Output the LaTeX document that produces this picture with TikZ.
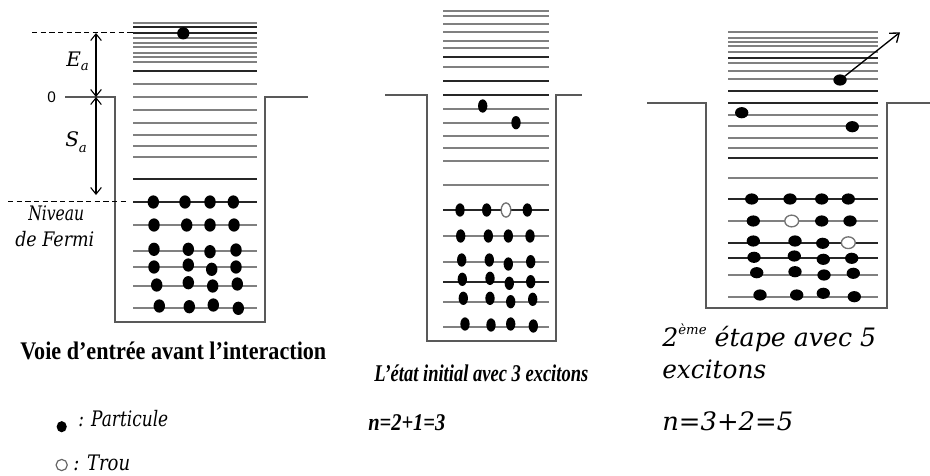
\documentclass[tikz,border=0pt]{standalone}
\usepackage{graphicx}
\usepackage{fontspec}
\setmainfont{Liberation Serif}
\newfontfamily\slab{DejaVu Serif}
\newfontfamily\sansf{Liberation Sans}
\usetikzlibrary{arrows.meta}
\newdimen\pxu \pxu=0.75pt
\newcommand{\fitw}[2]{\resizebox{#1\pxu}{\height}{#2}}
\begin{document}
\begin{tikzpicture}[x=0.75pt,y=-0.75pt,
  lv/.style={draw=black!50, line width=1.4pt},
  lvd/.style={draw=black!85, line width=1.4pt},
  well/.style={draw=black!65, line width=1.5pt},
  dashl/.style={draw=black, line width=1pt, dash pattern=on 4pt off 2.5pt},
  dimarrow/.style={draw=black, line width=0.8pt, {Straight Barb[length=5pt,width=8pt]}-{Straight Barb[length=5pt,width=8pt]}},
  outarrow/.style={draw=black, line width=1pt, -{Straight Barb[length=6pt,width=9pt]}},
  holestyle/.style={draw=black!55, fill=white, line width=1pt},
  txt/.style={inner sep=0pt, anchor=base west}]
\useasboundingbox (0,0) rectangle (930,475);

% ---------------- Panel 1 ----------------
\foreach \y in {22.7,37.7,42.7,47,52.7,57.3,62.3,84.3,96.7,110,122.7,135,145.7,156.7,225,250.7,267.3,286,308.3}
  \draw[lv] (133,\y) -- (257,\y);
\foreach \y in {27.3,33.3,71,179.3,201.7}
  \draw[lvd] (133,\y) -- (257,\y);
\draw[well] (65,97) -- (115,97) -- (115,322) -- (265,322) -- (265,97) -- (308,97);
\draw[dashl] (32,32.7) -- (133,32.7);
\draw[dashl] (8,201.7) -- (127,201.7);
\coordinate (eatop) at (96,33);
\coordinate (zero) at (96,97);
\coordinate (sabot) at (96,195);
\draw[dimarrow] (eatop) -- (zero);
\draw[dimarrow] (zero) -- (sabot);
\fill (183.3,33.3) circle [radius=4.6pt];
\foreach \x/\y in {153.3/202,185/202,210/202,233.3/202,
  154/225,186.7/225,210/225,234/225,
  154/249.3,188.3/249.3,210/251.7,236/250,
  154/267,188.3/265,211.7/269.3,236/267,
  156.7/285,188.3/282.7,212.7/286,237.3/284,
  159.3/306,189.3/306.7,213.3/305,238.3/308.3}
  \fill (\x,\y) ellipse [x radius=4.3pt, y radius=5pt];
\node[txt] (ea) at (66,66.7) {\fontsize{15pt}{17pt}\slab\itshape E\raisebox{-0.35ex}{\fontsize{10pt}{11pt}\selectfont a}};
\node[txt] (zerolab) at (47,102) {\fontsize{11.5pt}{13pt}\sansf 0};
\node[txt] (sa) at (65,146.7) {\fontsize{15pt}{17pt}\slab\itshape S\raisebox{-0.6ex}{\fontsize{10pt}{11pt}\selectfont a}};
\node[txt] (niv) at (28,220) {\fitw{56}{\fontsize{15pt}{17pt}\slab\itshape Niveau}};
\node[txt] (fermi) at (15,246.7) {\fitw{79}{\fontsize{15pt}{17pt}\slab\itshape de Fermi}};

% ---------------- Panel 2 ----------------
\foreach \y in {11,16,24.3,32.3,40.7,47.7,66.7,108.7,123,136.3,148,161.3,185,236,261.7,301.7,326.7}
  \draw[lv] (443,\y) -- (549,\y);
\foreach \y in {57.3,80.7,95,210,281.7}
  \draw[lvd] (443,\y) -- (549,\y);
\draw[well] (385,95) -- (427,95) -- (427,341) -- (556,341) -- (556,95) -- (582,95);
\foreach \x/\y in {482.7/106,516/122.7,
  460/210,486.7/210,527.3/210,
  460.7/236,488.3/236,508.3/236,530/236,
  461.7/260,489.3/260,508.3/264,530.7/261.7,
  462.3/279.3,490/278.3,509.3/283.3,530.7/281.7,
  463.3/298.3,490/298.3,510.7/301.7,532.7/299.3,
  465/324,491/325,510.7/324,533.3/326}
  \fill (\x,\y) ellipse [x radius=3.5pt, y radius=5pt];
\draw[holestyle] (506,210) ellipse [x radius=3.6pt, y radius=5.3pt];

% ---------------- Panel 3 ----------------
\foreach \y in {32.3,37.7,41.7,46,52.3,63.3,71,79,115,126,137.7,147.7,177.7,221,275,296.7}
  \draw[lv] (728,\y) -- (878,\y);
\foreach \y in {58.3,91,103.3,158.3,199,242.7,258.3}
  \draw[lvd] (728,\y) -- (878,\y);
\draw[well] (647,103.3) -- (705.7,103.3) -- (705.7,307.5) -- (887.3,307.5) -- (887.3,103.3) -- (930,103.3);
\foreach \x/\y in {840/80,741.7/112.7,852.3/126.7,
  751.7/199,790/199,821.7/199,848.3/199,
  753.3/221,821.7/221,850/221,
  753.3/241,795/241,822.7/243.3,
  754/257.3,794.3/256,823.3/259.3,851.7/258.3,
  756.7/272.7,795/271.7,824/275,853.3/273.3,
  760/295,796.7/295,823.3/293.3,854.3/296.7}
  \fill (\x,\y) ellipse [x radius=5pt, y radius=4.2pt];
\draw[holestyle] (791.7,221) ellipse [x radius=5.2pt, y radius=4.4pt];
\draw[holestyle] (848.3,242.7) ellipse [x radius=5.2pt, y radius=4.4pt];
\coordinate (esc) at (840,80);
\coordinate (esctip) at (900,32.3);
\draw[outarrow] (esc) -- (esctip);

% ---------------- Captions ----------------
\node[txt] (voie) at (20,359) {\fitw{306}{\fontsize{19pt}{22pt}\selectfont\bfseries Voie d’entrée avant l’interaction}};
\node[txt] (etat) at (374,381.5) {\fitw{214}{\fontsize{18pt}{20pt}\selectfont\bfseries\itshape L’état initial avec 3 excitons}};
\node[txt] (etape) at (662,346) {\fitw{214}{\fontsize{19pt}{22pt}\slab\itshape 2\raisebox{0.85ex}{\fontsize{10pt}{11pt}\selectfont ème} étape avec 5}};
\node[txt] (exc) at (662,378) {\fitw{104}{\fontsize{19pt}{22pt}\slab\itshape excitons}};
\node[txt] (n3) at (368,430) {\fitw{77}{\fontsize{18pt}{20pt}\selectfont\bfseries\itshape n=2+1=3}};
\node[txt] (n5) at (662,430) {\fitw{131}{\fontsize{19pt}{22pt}\slab\itshape n=3+2=5}};

% ---------------- Legend ----------------
\fill (61.7,426.7) ellipse [x radius=3.8pt, y radius=4.2pt];
\node[txt] (part) at (78,426) {\fitw{90}{\fontsize{16pt}{18pt}\slab\itshape : Particule}};
\draw[draw=black!60, line width=0.9pt] (61.7,465) circle [radius=4.2pt];
\node[txt] (trou) at (73,470) {\fitw{57}{\fontsize{16pt}{18pt}\slab\itshape : Trou}};
\end{tikzpicture}
\end{document}
